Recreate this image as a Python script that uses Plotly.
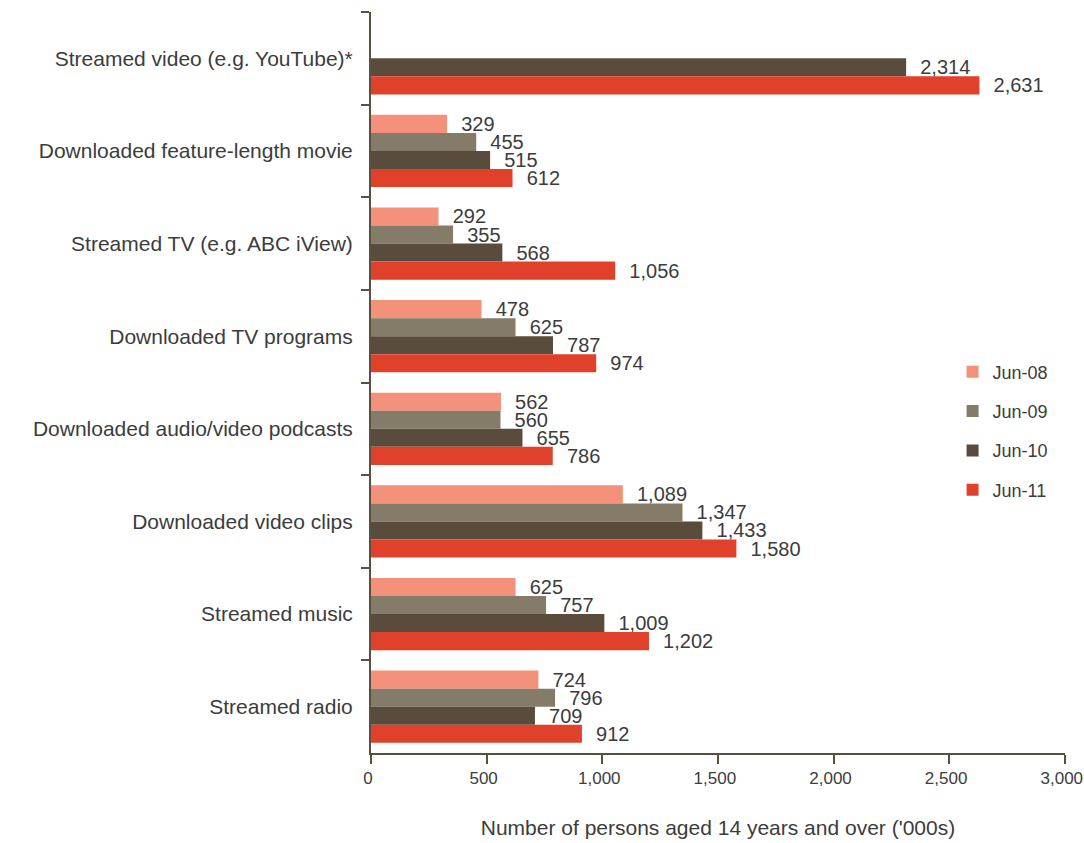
import plotly.graph_objects as go

categories = [
    "Streamed video (e.g. YouTube)*",
    "Downloaded feature-length movie",
    "Streamed TV (e.g. ABC iView)",
    "Downloaded TV programs",
    "Downloaded audio/video podcasts",
    "Downloaded video clips",
    "Streamed music",
    "Streamed radio",
]
series_names = ["Jun-08", "Jun-09", "Jun-10", "Jun-11"]
jun08 = [None, 329, 292, 478, 562, 1089, 625, 724]
jun09 = [None, 455, 355, 625, 560, 1347, 757, 796]
jun10 = [2314, 515, 568, 787, 655, 1433, 1009, 709]
jun11 = [2631, 612, 1056, 974, 786, 1580, 1202, 912]
x_ticks = [0, 500, 1000, 1500, 2000, 2500, 3000]

colors = ["#F4917A", "#857B69", "#5A4C3C", "#E0412A"]
axis_color = "#5A5040"
text_color = "#3C3C3C"
font_family = "Liberation Sans, Arial, sans-serif"

fig = go.Figure()
for name, vals, col in zip(series_names, [jun08, jun09, jun10, jun11], colors):
    fig.add_trace(go.Bar(
        y=categories, x=vals, name=name, orientation="h",
        marker=dict(color=col, line=dict(width=0)),
        texttemplate="\u00a0\u00a0%{x:,}", textposition="outside",
        constraintext="none", cliponaxis=False,
        textfont=dict(family=font_family, size=20, color=text_color),
        legendgroup=name, hoverinfo="x+name",
    ))

fig.update_layout(
    width=1084, height=843,
    margin=dict(l=371, r=19, t=12, b=90),
    paper_bgcolor="white", plot_bgcolor="white",
    barmode="group", bargap=0.22, bargroupgap=0,
    font=dict(family=font_family, color=text_color),
    legend=dict(
        x=0.838, y=0.4346, xanchor="left", yanchor="middle",
        font=dict(family=font_family, size=18, color=text_color),
        tracegroupgap=13, bgcolor="rgba(0,0,0,0)",
    ),
    xaxis=dict(
        range=[0, 3001], tickvals=x_ticks, tickformat=",",
        automargin=False, ticklabeloverflow="allow", ticklabelshift=-3,
        showgrid=False, zeroline=False,
        showline=True, linecolor=axis_color, linewidth=2,
        ticks="outside", ticklen=9, tickwidth=2, tickcolor=axis_color,
        tickfont=dict(family=font_family, size=17, color=text_color),
        ticklabelstandoff=0,
        title=dict(text="Number of persons aged 14 years and over ('000s)",
                   font=dict(family=font_family, size=21, color=text_color),
                   standoff=33),
    ),
    yaxis=dict(
        autorange="reversed", automargin=False,
        showgrid=False, zeroline=False,
        showline=True, linecolor=axis_color, linewidth=2,
        ticks="outside", ticklen=8, tickwidth=2, tickcolor=axis_color,
        tickson="boundaries",
        tickfont=dict(family=font_family, size=21, color=text_color),
        ticklabelstandoff=12,
    ),
)

fig.write_html("out.html", config={"displayModeBar": False},
               post_script="document.body.style.margin='0';")
